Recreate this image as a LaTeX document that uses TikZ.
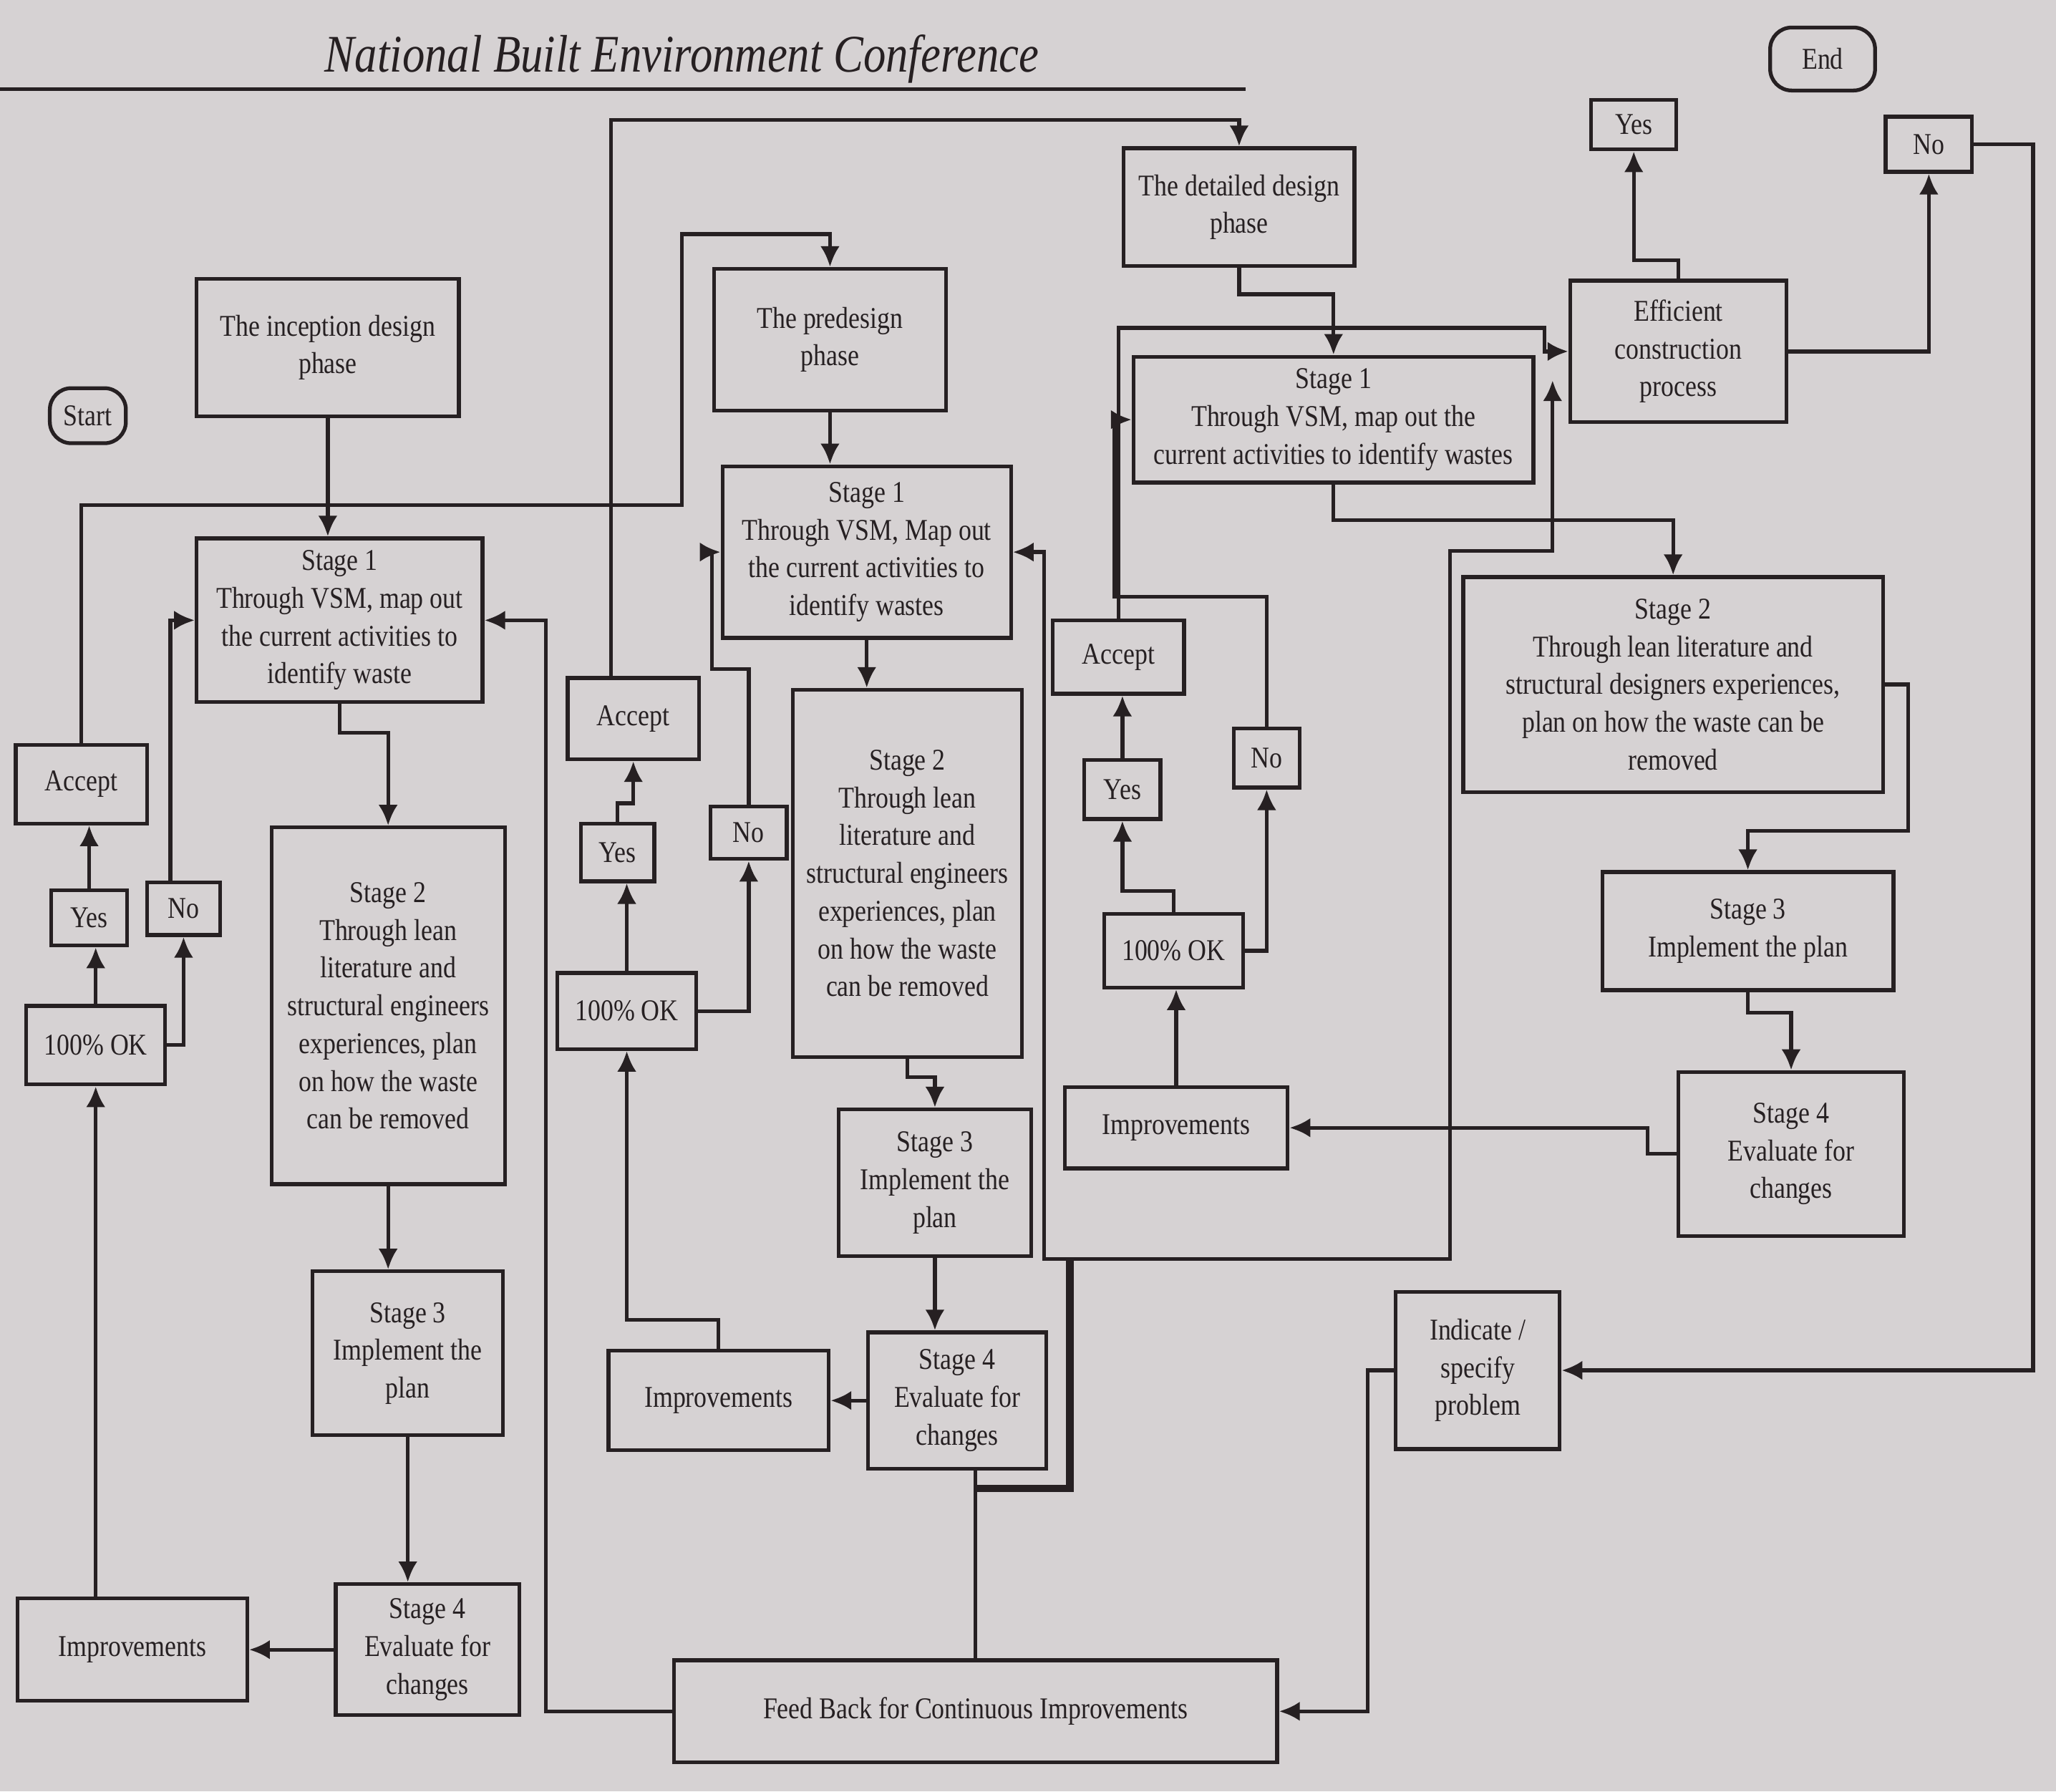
\documentclass[tikz,border=0pt]{standalone}
\usepackage{fontspec}
\setmainfont{Liberation Serif}[FakeStretch=0.85]
\usepackage{tikz}
\usetikzlibrary{positioning, arrows.meta, calc}

\definecolor{paper}{RGB}{214,210,211}
\definecolor{ink}{RGB}{38,32,34}
\newcommand{\pxu}{0.18316mm}

\begin{document}
\begin{tikzpicture}[x=\pxu, y=-\pxu, ->, >={Latex[length=2.9mm,width=2.7mm]},
    color=ink, line width=1.5pt,
    box/.style={draw, rectangle, align=center, inner sep=1pt, font=\fontsize{12}{15}\selectfont},
    term/.style={box, rounded corners=3mm},
    wh/.style 2 args={minimum width=#1*\pxu, minimum height=#2*\pxu}]

    \fill[paper, -] (0,0) rectangle (1568,1366);
    \useasboundingbox (0,0) rectangle (1568,1366);

    \node[font=\itshape\fontsize{21}{21}\selectfont, anchor=base west] (title) at (240,55) {National Built Environment Conference};
    \draw[-] (0,68) -- (950,68);

    \node[term, wh={58}{42}] (start) at (67,317) {Start};
    \node[box, wh={200}{105}] (inc) at (250,265) {The inception design\\phase};
    \node[box, wh={218}{125}] (s1a) at (259,473) {Stage 1\\Through VSM, map out\\the current activities to\\identify waste};
    \node[box, wh={178}{272}] (s2a) at (296,767) {Stage 2\\Through lean\\literature and\\structural engineers\\experiences, plan\\on how the waste\\can be removed};
    \node[box, wh={145}{125}] (s3a) at (311,1032) {Stage 3\\Implement the\\plan};
    \node[box, wh={140}{100}] (s4a) at (326,1258) {Stage 4\\Evaluate for\\changes};
    \node[box, wh={175}{78}] (impa) at (101,1258) {Improvements};
    \node[box, wh={106}{60}] (oka) at (73,797) {100\% OK};
    \node[box, wh={58}{42}] (yesa) at (68,700) {Yes};
    \node[box, wh={56}{40}] (noa) at (140,693) {No};
    \node[box, wh={100}{60}] (acca) at (62,598) {Accept};

    \node[box, wh={177}{108}] (pre) at (633,259) {The predesign\\phase};
    \node[box, wh={220}{131}] (s1b) at (661,421) {Stage 1\\Through VSM, Map out\\the current activities to\\identify wastes};
    \node[box, wh={175}{280}] (s2b) at (692,666) {Stage 2\\Through lean\\literature and\\structural engineers\\experiences, plan\\on how the waste\\can be removed};
    \node[box, wh={147}{112}] (s3b) at (713,902) {Stage 3\\Implement the\\plan};
    \node[box, wh={136}{104}] (s4b) at (730,1068) {Stage 4\\Evaluate for\\changes};
    \node[box, wh={168}{76}] (impb) at (548,1068) {Improvements};
    \node[box, wh={106}{58}] (okb) at (478,771) {100\% OK};
    \node[box, wh={56}{44}] (yesb) at (471,650) {Yes};
    \node[box, wh={58}{40}] (nob) at (571,635) {No};
    \node[box, wh={100}{62}] (accb) at (483,548) {Accept};

    \node[box, wh={176}{90}] (det) at (945,158) {The detailed design\\phase};
    \node[box, wh={305}{96}] (s1c) at (1017,320) {Stage 1\\Through VSM, map out the\\current activities to identify wastes};
    \node[box, wh={320}{164}] (s2c) at (1276,522) {Stage 2\\Through lean literature and\\structural designers experiences,\\plan on how the waste can be\\removed};
    \node[box, wh={222}{90}] (s3c) at (1333,710) {Stage 3\\Implement the plan};
    \node[box, wh={172}{125}] (s4c) at (1366,880) {Stage 4\\Evaluate for\\changes};
    \node[box, wh={170}{62}] (impc) at (897,860) {Improvements};
    \node[box, wh={106}{56}] (okc) at (895,725) {100\% OK};
    \node[box, wh={58}{45}] (yesc) at (856,602) {Yes};
    \node[box, wh={50}{45}] (noc) at (966,578) {No};
    \node[box, wh={100}{56}] (accc) at (853,501) {Accept};

    \node[box, wh={165}{108}] (eff) at (1280,268) {Efficient\\construction\\process};
    \node[box, wh={65}{38}] (yesend) at (1246,95) {Yes};
    \node[term, wh={80}{48}] (end) at (1390,45) {End};
    \node[box, wh={66}{42}] (noend) at (1471,110) {No};
    \node[box, wh={125}{120}] (ind) at (1127,1045) {Indicate /\\specify\\problem};
    \node[box, wh={460}{78}] (fb) at (744,1305) {Feed Back for Continuous Improvements};

    \coordinate (ja) at (520,385);
    \coordinate (jb) at (543,510);
    \coordinate (jd) at (1178,250);
    \coordinate (je) at (850,455);
    \coordinate (jf) at (816,1135);
    \coordinate (jg) at (816,960);
    \coordinate (jh) at (1106,420);
    \coordinate (ji) at ($(eff.west)+(-12,22)$);

    \draw (inc) -- (inc |- s1a.north);
    \draw (s1a.south) -- ++(0,22) -| (s2a.north);
    \draw (s2a) -- (s2a |- s3a.north);
    \draw (s3a) -- (s3a |- s4a.north);
    \draw (s4a) -- (impa);
    \draw (oka |- impa.north) -- (oka);
    \draw (oka) -- (oka |- yesa.south);
    \draw (yesa) -- (yesa |- acca.south);
    \draw (oka.east) -| (noa.south);
    \draw ($(noa.north)+(-10,0)$) |- (s1a.west);
    \draw (acca.north) |- (ja) |- ($(pre.north)+(0,-25)$) -- (pre.north);

    \draw (pre) -- (pre |- s1b.north);
    \draw (s1b) -- (s1b |- s2b.north);
    \draw (s2b.south) -- ++(0,14) -| (s3b.north);
    \draw (s3b) -- (s3b |- s4b.north);
    \draw (s4b) -- (impb);
    \draw (impb.north) -- ++(0,-22) -| (okb.south);
    \draw (okb) -- (okb |- yesb.south);
    \draw (yesb.north) -- ++(0,-14) -| (accb.south);
    \draw (okb.east) -| (nob.south);
    \draw (nob.north) |- (jb) |- (s1b.west);
    \draw ($(accb.north)+(-17,0)$) |- ($(det.north)+(0,-20)$) -- (det.north);

    \draw (det.south) -- ++(0,20) -| (s1c.north);
    \draw (s1c.south) -- ++(0,27) -| (s2c.north);
    \draw (s2c.east) -- ++(18,0) |- ($(s3c.north)+(0,-30)$) -- (s3c.north);
    \draw (s3c.south) -- ++(0,16) -| (s4c.north);
    \draw (s4c.west) -- ++(-22,0) |- (impc.east);
    \draw (impc) -- (impc |- okc.south);
    \draw (okc.north) -- ++(0,-16) -| (yesc.south);
    \draw (yesc) -- (yesc |- accc.south);
    \draw (okc.east) -| (noc.south);
    \draw (accc.north) |- (jd) |- (eff.west);
    \draw (noc.north) |- (je) |- (s1c.west);

    \draw (eff.north) -- ++(0,-14) -| (yesend.south);
    \draw (eff.east) -| (noend.south);
    \draw (noend.east) -- ++(45,0) |- (ind.east);
    \draw (ind.west) -- ++(-20,0) |- (fb.east);

    \draw (fb.west) -| ($(s1a.east)+(47,0)$) -- (s1a.east);
    \draw[-] (fb.north) -- (fb.north |- s4b.south);
    \draw[-, line width=3pt] (fb.north |- jf) -- (jf) -- (jg);
    \draw (jg) -| ($(s1b.east)+(24,0)$) -- (s1b.east);
    \draw (jg) -| (jh) -| (ji);
\end{tikzpicture}
\end{document}
